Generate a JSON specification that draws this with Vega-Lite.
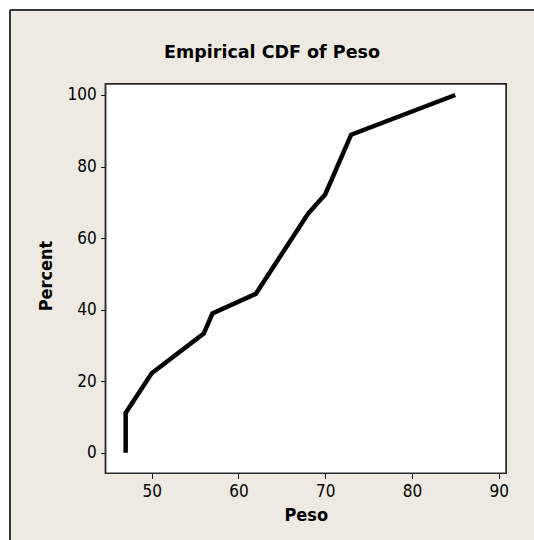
{
  "$schema": "https://vega.github.io/schema/vega-lite/v6.json",
  "width": 524,
  "height": 530,
  "autosize": {"type": "none"},
  "padding": {"left": 10, "top": 10, "right": 0, "bottom": 0},
  "background": "#FFFFFF",
  "title": {
    "text": "Empirical CDF of Peso",
    "anchor": "middle",
    "frame": "group",
    "offset": -66,
    "baseline": "alphabetic",
    "font": "DejaVu Sans",
    "fontSize": 17.5,
    "fontWeight": "bold",
    "color": "#000000"
  },
  "config": {
    "view": {"fill": "#EEEAE1", "stroke": null},
    "axis": {
      "grid": false,
      "domain": false,
      "tickColor": "#000000",
      "tickSize": 5,
      "tickWidth": 1,
      "labelFont": "DejaVu Sans Condensed",
      "labelFontSize": 17,
      "labelColor": "#000000",
      "titleFont": "DejaVu Sans Condensed",
      "titleFontSize": 18,
      "titleFontWeight": "bold",
      "titleColor": "#000000"
    }
  },
  "data": {
    "values": [
      {"Peso": 47, "Percent": 0},
      {"Peso": 47, "Percent": 11.1},
      {"Peso": 50, "Percent": 22.2},
      {"Peso": 56, "Percent": 33.3},
      {"Peso": 57, "Percent": 38.9},
      {"Peso": 62, "Percent": 44.4},
      {"Peso": 68, "Percent": 66.7},
      {"Peso": 70, "Percent": 72.2},
      {"Peso": 73, "Percent": 88.9},
      {"Peso": 85, "Percent": 100}
    ]
  },
  "layer": [
    {
      "mark": {"type": "rule", "color": "#3A3A3A", "strokeWidth": 1.5},
      "encoding": {
        "x": {"datum": 33.667, "type": "quantitative", "scale": {"domain": [33.667, 94.077], "nice": false, "zero": false}},
        "y": {"datum": -24.41, "type": "quantitative", "scale": {"domain": [-24.41, 123.76], "nice": false, "zero": false}},
        "y2": {"datum": 123.76}
      }
    },
    {
      "mark": {"type": "rule", "color": "#3A3A3A", "strokeWidth": 1.5},
      "encoding": {
        "x": {"datum": 33.667, "type": "quantitative"},
        "x2": {"datum": 94.077},
        "y": {"datum": 123.76, "type": "quantitative"}
      }
    },
    {
      "mark": {"type": "rect", "fill": "#FFFFFF", "stroke": "#2A2A2A", "strokeWidth": 1.5},
      "encoding": {
        "x": {"datum": 44.7, "type": "quantitative"},
        "x2": {"datum": 90.85},
        "y": {"datum": -5.76, "type": "quantitative"},
        "y2": {"datum": 103.07}
      }
    },
    {
      "mark": {"type": "line", "color": "#000000", "strokeWidth": 4.5, "strokeJoin": "miter"},
      "encoding": {
        "x": {
          "field": "Peso",
          "type": "quantitative",
          "scale": {"domain": [33.667, 94.077], "nice": false, "zero": false},
          "axis": {
            "values": [50, 60, 70, 80, 90],
            "offset": -66.7,
            "labelPadding": 5,
            "title": "Peso",
            "titleX": 295.8,
            "titleY": 46.7,
            "titleAlign": "center",
            "titleBaseline": "alphabetic"
          }
        },
        "y": {
          "field": "Percent",
          "type": "quantitative",
          "scale": {"domain": [-24.41, 123.76], "nice": false, "zero": false},
          "axis": {
            "values": [0, 20, 40, 60, 80, 100],
            "offset": -95.7,
            "labelPadding": 4.5,
            "title": "Percent",
            "titleX": -54,
            "titleY": 265.5,
            "titleAlign": "center",
            "titleBaseline": "alphabetic"
          }
        },
        "order": {"field": "Percent", "type": "quantitative"}
      }
    }
  ]
}
